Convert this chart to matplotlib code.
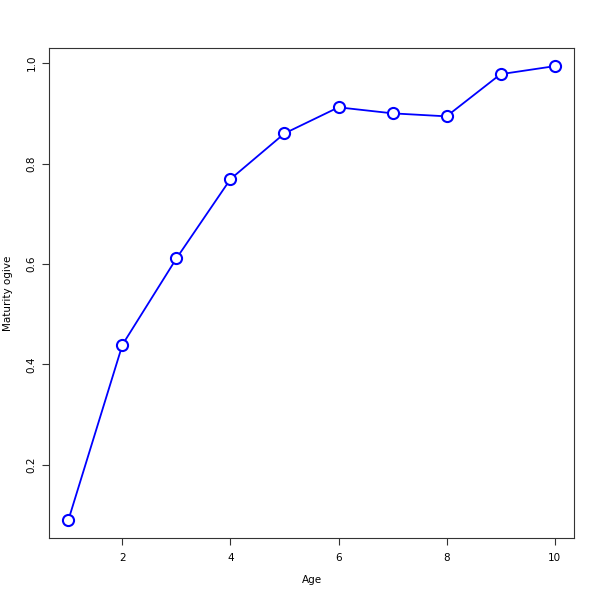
import matplotlib
matplotlib.use("Agg")
import matplotlib.pyplot as plt

ages = [1, 2, 3, 4, 5, 6, 7, 8, 9, 10]
maturity = [0.090, 0.439, 0.611, 0.769, 0.860, 0.912, 0.900, 0.894, 0.978, 0.994]
xticks = [2, 4, 6, 8, 10]
yticks = [0.2, 0.4, 0.6, 0.8, 1.0]

fig = plt.figure(figsize=(6, 6), dpi=100)
ax = fig.add_axes([49/600, 1-538/600, (574-49)/600, (538-48)/600])
ax.plot(ages, maturity, color='#0000ff', lw=1.3, marker='o', ms=8,
        mfc='white', mec='#0000ff', mew=1.5)
ax.set_xlim(0.64, 10.36)
ax.set_ylim(0.0538, 1.0302)
ax.set_xticks(xticks)
ax.set_xticklabels([str(v) for v in xticks])
ax.set_yticks(yticks)
ax.set_yticklabels([f"{v:.1f}" for v in yticks], rotation=90, va='center')
ax.tick_params(labelsize=7.5, length=5, width=0.8, color='#333333')
ax.tick_params(axis='x', pad=6)
ax.tick_params(axis='y', pad=4)
for s in ax.spines.values():
    s.set_color('#333333')
    s.set_linewidth(0.8)
fig.text(312/600, 1-580/600, 'Age', fontsize=7.5, ha='center', va='center')
fig.text(8/600, 1-293/600, 'Maturity ogive', fontsize=7.5, ha='center', va='center',
         rotation=90)
fig.savefig('out.png', dpi=100)
